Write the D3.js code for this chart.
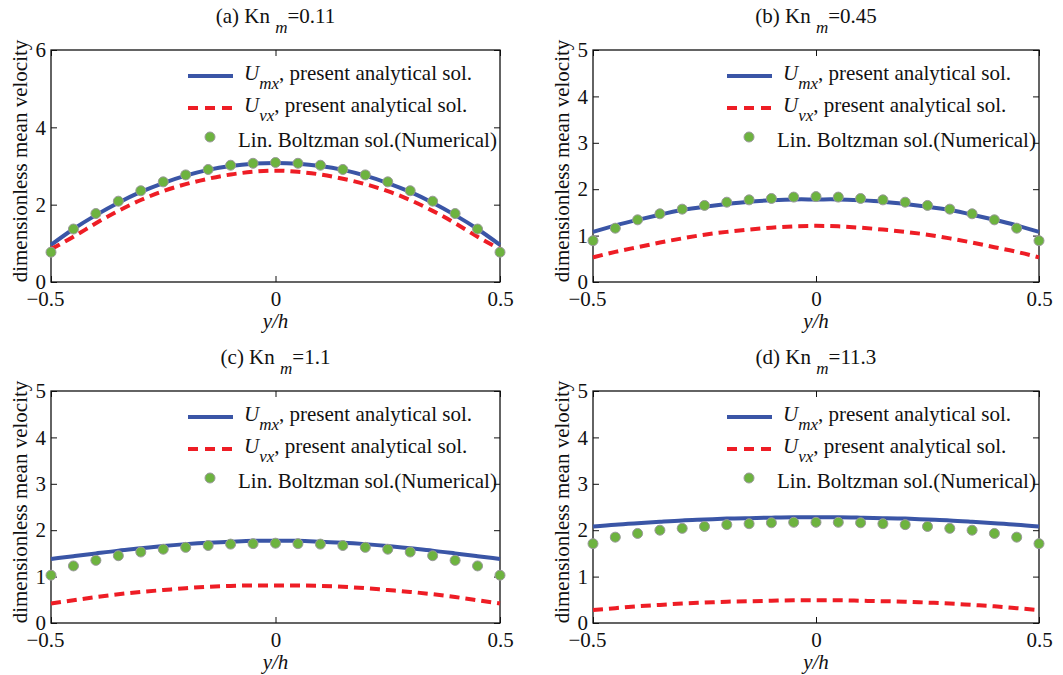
<!DOCTYPE html>
<html>
<head>
<meta charset="utf-8">
<script src="https://cdn.jsdelivr.net/npm/d3@7"></script>
<style>
  body { margin: 0; background: #fff; }
  svg text { font-family: "Liberation Serif", "Times New Roman", "DejaVu Serif", serif !important; }
</style>
</head>
<body>
<svg id="chart" width="1063" height="675"></svg>
<script>
// y/h positions of the samples
const yh = [-0.5, -0.45, -0.4, -0.35, -0.3, -0.25, -0.2, -0.15, -0.1, -0.05, 0,
            0.05, 0.1, 0.15, 0.2, 0.25, 0.3, 0.35, 0.4, 0.45, 0.5];

// (a) Kn_m = 0.11
const umxA = [0.96, 1.37, 1.73, 2.05, 2.33, 2.56, 2.75, 2.90, 3.00, 3.06, 3.08, 3.06, 3.00, 2.90, 2.75, 2.56, 2.33, 2.05, 1.73, 1.37, 0.96];
const uvxA = [0.85, 1.17, 1.52, 1.84, 2.12, 2.35, 2.53, 2.67, 2.78, 2.85, 2.88, 2.85, 2.78, 2.67, 2.53, 2.35, 2.12, 1.84, 1.52, 1.17, 0.85];
const lbA  = [0.77, 1.37, 1.77, 2.09, 2.36, 2.59, 2.77, 2.91, 3.02, 3.07, 3.09, 3.07, 3.02, 2.91, 2.77, 2.59, 2.36, 2.09, 1.77, 1.37, 0.77];

// (b) Kn_m = 0.45
const umxB = [1.08, 1.22, 1.34, 1.45, 1.55, 1.62, 1.68, 1.73, 1.76, 1.78, 1.78, 1.78, 1.76, 1.73, 1.68, 1.62, 1.55, 1.45, 1.34, 1.22, 1.08];
const uvxB = [0.53, 0.65, 0.75, 0.85, 0.94, 1.02, 1.08, 1.13, 1.17, 1.20, 1.21, 1.20, 1.17, 1.13, 1.08, 1.02, 0.94, 0.85, 0.75, 0.65, 0.53];
const lbB  = [0.89, 1.16, 1.34, 1.47, 1.57, 1.65, 1.72, 1.77, 1.80, 1.83, 1.84, 1.83, 1.80, 1.77, 1.72, 1.65, 1.57, 1.47, 1.34, 1.16, 0.89];

// (c) Kn_m = 1.1
const umxC = [1.38, 1.44, 1.50, 1.56, 1.61, 1.66, 1.70, 1.73, 1.75, 1.77, 1.77, 1.77, 1.75, 1.73, 1.70, 1.66, 1.61, 1.56, 1.50, 1.44, 1.38];
const uvxC = [0.42, 0.49, 0.56, 0.62, 0.67, 0.71, 0.75, 0.78, 0.80, 0.81, 0.81, 0.81, 0.80, 0.78, 0.75, 0.71, 0.67, 0.62, 0.56, 0.49, 0.42];
const lbC  = [1.03, 1.23, 1.35, 1.45, 1.53, 1.59, 1.63, 1.67, 1.70, 1.71, 1.72, 1.71, 1.70, 1.67, 1.63, 1.59, 1.53, 1.45, 1.35, 1.23, 1.03];

// (d) Kn_m = 11.3
const umxD = [2.08, 2.12, 2.15, 2.18, 2.21, 2.23, 2.25, 2.26, 2.27, 2.28, 2.28, 2.28, 2.27, 2.26, 2.25, 2.23, 2.21, 2.18, 2.15, 2.12, 2.08];
const uvxD = [0.28, 0.32, 0.36, 0.39, 0.42, 0.44, 0.46, 0.47, 0.48, 0.49, 0.49, 0.49, 0.48, 0.47, 0.46, 0.44, 0.42, 0.39, 0.36, 0.32, 0.28];
const lbD  = [1.71, 1.85, 1.93, 2.00, 2.04, 2.08, 2.12, 2.14, 2.16, 2.17, 2.17, 2.17, 2.16, 2.14, 2.12, 2.08, 2.04, 2.00, 1.93, 1.85, 1.71];

const xTicks = [-0.5, 0, 0.5];
const yTicks6 = [0, 2, 4, 6];
const yTicks5 = [0, 1, 2, 3, 4, 5];

const panels = [
  { tag: '(a)', kn: '0.11', left: 51,  top: 50,  right: 500,  bottom: 282, yMax: 6, yTicks: yTicks6, umx: umxA, uvx: uvxA, lb: lbA },
  { tag: '(b)', kn: '0.45', left: 593, top: 50,  right: 1039, bottom: 282, yMax: 5, yTicks: yTicks5, umx: umxB, uvx: uvxB, lb: lbB },
  { tag: '(c)', kn: '1.1',  left: 51,  top: 391, right: 500,  bottom: 623, yMax: 5, yTicks: yTicks5, umx: umxC, uvx: uvxC, lb: lbC },
  { tag: '(d)', kn: '11.3', left: 593, top: 391, right: 1039, bottom: 623, yMax: 5, yTicks: yTicks5, umx: umxD, uvx: uvxD, lb: lbD }
];

const blue = '#3a55a6';
const red = '#ee1d25';
const green = '#6db33f';
const fontSize = 21;

const svg = d3.select('#chart');

function drawPanel(p) {
  const g = svg.append('g');

  const x = d3.scaleLinear().domain([-0.5, 0.5]).range([p.left, p.right]);
  const y = d3.scaleLinear().domain([0, p.yMax]).range([p.bottom, p.top]);

  const fmt = d => d === 0 ? '0' : d3.format('')(d);

  // axes with inward ticks on all four sides
  const bottomAxis = g.append('g')
    .attr('transform', `translate(0,${p.bottom})`)
    .call(d3.axisBottom(x).tickValues(xTicks).tickSizeInner(-6).tickSizeOuter(0).tickPadding(9).tickFormat(fmt));
  bottomAxis.selectAll('text').attr('dx', d => d < 0 ? -6 : 0);

  g.append('g')
    .attr('transform', `translate(0,${p.top})`)
    .call(d3.axisTop(x).tickValues(xTicks).tickSizeInner(-6).tickSizeOuter(0).tickFormat(''));

  g.append('g')
    .attr('transform', `translate(${p.left},0)`)
    .call(d3.axisLeft(y).tickValues(p.yTicks).tickSizeInner(-6).tickSizeOuter(0).tickPadding(5).tickFormat(fmt));

  g.append('g')
    .attr('transform', `translate(${p.right},0)`)
    .call(d3.axisRight(y).tickValues(p.yTicks).tickSizeInner(-6).tickSizeOuter(0).tickFormat(''));

  g.selectAll('.tick text')
    .attr('font-size', fontSize)
    .attr('fill', '#111');
  g.selectAll('.tick line').attr('stroke', '#111').attr('stroke-width', 1);
  g.selectAll('.domain').remove();

  g.append('rect')
    .attr('x', p.left).attr('y', p.top)
    .attr('width', p.right - p.left).attr('height', p.bottom - p.top)
    .attr('fill', 'none').attr('stroke', '#111').attr('stroke-width', 1.3);

  // curves
  const line = d3.line().x((d, i) => x(yh[i])).y(d => y(d)).curve(d3.curveNatural);

  g.append('path')
    .datum(p.umx)
    .attr('d', line)
    .attr('fill', 'none').attr('stroke', blue).attr('stroke-width', 4);

  g.append('path')
    .datum(p.uvx)
    .attr('d', line)
    .attr('fill', 'none').attr('stroke', red).attr('stroke-width', 4)
    .attr('stroke-dasharray', '10,6');

  g.selectAll('.dot')
    .data(p.lb)
    .join('circle')
    .attr('class', 'dot')
    .attr('cx', (d, i) => x(yh[i]))
    .attr('cy', d => y(d))
    .attr('r', 5)
    .attr('fill', green)
    .attr('stroke', '#999')
    .attr('stroke-width', 1);

  // title
  const cx = (p.left + p.right) / 2;
  const title = g.append('text')
    .attr('x', cx).attr('y', p.top - 27)
    .attr('text-anchor', 'middle')
    .attr('font-size', fontSize)
    .attr('fill', '#111');
  title.append('tspan').text(p.tag + ' Kn ');
  title.append('tspan').attr('font-style', 'italic').attr('font-size', 17).attr('dy', 10).text('m');
  title.append('tspan').attr('dy', -10).text('=' + p.kn);

  // axis labels
  g.append('text')
    .attr('x', cx).attr('y', p.bottom + 46)
    .attr('text-anchor', 'middle')
    .attr('font-size', fontSize)
    .attr('font-style', 'italic')
    .attr('fill', '#111')
    .text('y/h');

  g.append('text')
    .attr('transform', `translate(${p.left - 24},${(p.top + p.bottom) / 2 - 5}) rotate(-90)`)
    .attr('text-anchor', 'middle')
    .attr('font-size', fontSize)
    .attr('fill', '#111')
    .text('dimensionless mean velocity');

  // legend
  const lx = p.right - 312;
  const legend = g.append('g');

  legend.append('line')
    .attr('x1', lx).attr('x2', lx + 45)
    .attr('y1', p.top + 26).attr('y2', p.top + 26)
    .attr('stroke', blue).attr('stroke-width', 4);
  legend.append('line')
    .attr('x1', lx).attr('x2', lx + 45)
    .attr('y1', p.top + 58).attr('y2', p.top + 58)
    .attr('stroke', red).attr('stroke-width', 4)
    .attr('stroke-dasharray', '10,7');
  legend.append('circle')
    .attr('cx', lx + 22).attr('cy', p.top + 87).attr('r', 5)
    .attr('fill', green).attr('stroke', '#999').attr('stroke-width', 1);

  [['mx', 30], ['vx', 62]].forEach(([sub, dy]) => {
    const t = legend.append('text')
      .attr('x', lx + 56).attr('y', p.top + dy)
      .attr('font-size', fontSize)
      .attr('fill', '#111');
    t.append('tspan').attr('font-style', 'italic').text('U');
    t.append('tspan').attr('font-style', 'italic').attr('font-size', 17).attr('dy', 9).text(sub);
    t.append('tspan').attr('dy', -9).text(', present analytical sol.');
  });

  legend.append('text')
    .attr('x', lx + 50).attr('y', p.top + 97)
    .attr('font-size', fontSize)
    .attr('fill', '#111')
    .text('Lin. Boltzman sol.(Numerical)');
}

panels.forEach(drawPanel);
</script>
</body>
</html>
